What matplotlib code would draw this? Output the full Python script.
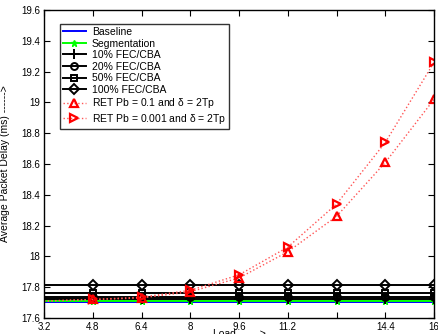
import matplotlib
matplotlib.use('Agg')
import matplotlib.pyplot as plt

plt.rcParams['font.family'] = ['Liberation Sans', 'DejaVu Sans']
plt.rcParams['mathtext.fontset'] = 'custom'
plt.rcParams['mathtext.rm'] = 'Liberation Sans'
plt.rcParams['mathtext.it'] = 'Liberation Sans'

load = [3.2, 4.8, 6.4, 8.0, 9.6, 11.2, 12.8, 14.4, 16.0]
x_ticks = [3.2, 4.8, 6.4, 8, 9.6, 11.2, 12.8, 14.4, 16]
x_tick_labels = ['3.2', '4.8', '6.4', '8', '9.6', '11.2', '', '14.4', '16']
y_ticks = [17.6, 17.8, 18.0, 18.2, 18.4, 18.6, 18.8, 19.0, 19.2, 19.4, 19.6]
y_tick_labels = ['17.6', '17.8', '18', '18.2', '18.4', '18.6', '18.8', '19', '19.2', '19.4', '19.6']

baseline = [17.705] * 9
segmentation = [17.712] * 9
fec10 = [17.722] * 9
fec20 = [17.738] * 9
fec50 = [17.765] * 9
fec100 = [17.815] * 9
ret_01 = [17.71, 17.72, 17.73, 17.77, 17.86, 18.03, 18.26, 18.61, 19.02]
ret_0001 = [17.71, 17.72, 17.735, 17.78, 17.88, 18.06, 18.34, 18.74, 19.26]

fig = plt.figure(figsize=(4.38, 3.34), dpi=100)
ax = fig.add_axes([0.1005, 0.048, 0.8905, 0.922])

me = slice(1, None)
ax.plot(load, baseline, color='blue', lw=1.4, label='Baseline')
ax.plot(load, segmentation, color='#00ff00', lw=1.4, marker='*', ms=5,
        markevery=me, label='Segmentation')
ax.plot(load, fec10, color='black', lw=1.4, marker='+', ms=7, mew=1.4,
        markevery=me, label='10% FEC/CBA')
ax.plot(load, fec20, color='black', lw=1.4, marker='o', ms=5, mfc='none', mew=1.4,
        markevery=me, label='20% FEC/CBA')
ax.plot(load, fec50, color='black', lw=1.4, marker='s', ms=5, mfc='none', mew=1.4,
        markevery=me, label='50% FEC/CBA')
ax.plot(load, fec100, color='black', lw=1.4, marker='D', ms=5, mfc='none', mew=1.4,
        markevery=me, label='100% FEC/CBA')
ax.plot(load, ret_01, color='#ff5555', lw=1.0, ls=':', marker='^', ms=6,
        mfc='none', mec='red', mew=1.6, markevery=me,
        label=r'RET Pb = 0.1 and $\delta$ = 2Tp')
ax.plot(load, ret_0001, color='#ff5555', lw=1.0, ls=':', marker='>', ms=6,
        mfc='none', mec='red', mew=1.6, markevery=me,
        label=r'RET Pb = 0.001 and $\delta$ = 2Tp')

ax.set_xlim(3.2, 16)
ax.set_ylim(17.6, 19.6)
ax.set_xticks(x_ticks)
ax.set_xticklabels(x_tick_labels)
ax.set_yticks(y_ticks)
ax.set_yticklabels(y_tick_labels)
ax.tick_params(direction='in', top=True, right=True, labelsize=7, length=4, pad=3)
for s in ax.spines.values():
    s.set_linewidth(1.0)

ax.set_xlabel('Load ------>', fontsize=7.5, labelpad=-2)
ax.set_ylabel('Average Packet Delay (ms) ------>', fontsize=7.5, labelpad=8)

leg = ax.legend(loc='upper left', bbox_to_anchor=(0.04, 0.955), fontsize=7.5,
                frameon=True, fancybox=False, edgecolor='black', borderpad=0.3,
                labelspacing=0.15, handlelength=2.2, handletextpad=0.6,
                borderaxespad=0)
leg.get_frame().set_linewidth(1.0)

plt.savefig('out.png', dpi=100)
